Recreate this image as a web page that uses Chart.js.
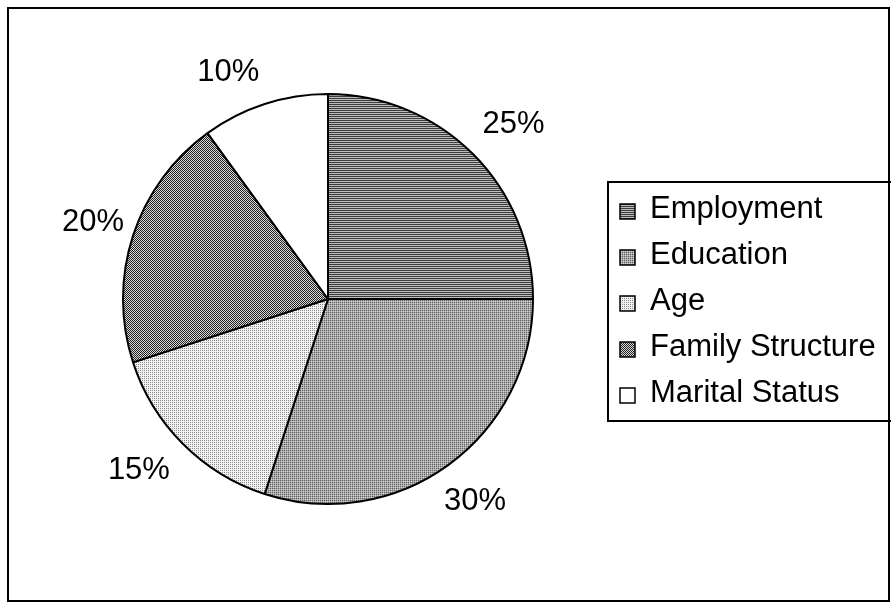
<!DOCTYPE html>
<html>
<head>
<meta charset="utf-8">
<script src="https://cdn.jsdelivr.net/npm/chart.js@4.4.0/dist/chart.umd.min.js"></script>
<style>
  html, body { margin: 0; padding: 0; background: #fff; }
  #grafico { display: block; }
</style>
</head>
<body>
<canvas id="grafico" width="891" height="603"></canvas>
<script>
const categorias = ['Employment', 'Education', 'Age', 'Family Structure', 'Marital Status']
const valores = [25, 30, 15, 20, 10]

// small bitmap fills, like the hatch patterns of the original
function geraPadrao(linhas) {
  const c = document.createElement('canvas')
  c.width = linhas[0].length
  c.height = linhas.length
  const ctx = c.getContext('2d')
  linhas.forEach((linha, y) => {
    linha.forEach((cor, x) => {
      ctx.fillStyle = cor
      ctx.fillRect(x, y, 1, 1)
    })
  })
  return ctx.createPattern(c, 'repeat')
}

const padroes = [
  geraPadrao([['#3c3c3c', '#3c3c3c'], ['#bcbcbc', '#bcbcbc']]),
  geraPadrao([['#606060', '#a8a8a8'], ['#a8a8a8', '#d0d0d0']]),
  geraPadrao([['#8a8a8a', '#f2f2f2'], ['#f2f2f2', '#f2f2f2']]),
  geraPadrao([['#222222', '#d8d8d8'], ['#d8d8d8', '#222222']]),
  '#ffffff'
]

const fonte = '"Liberation Sans", Arial, sans-serif'

// extra distance / angle nudge of each percent label (px, radians)
const ajusteRotulo = [
  { d: 50, a: 0.03 },
  { d: 45, a: 0 },
  { d: 50, a: 0.05 },
  { d: 42, a: 0 },
  { d: 43, a: -0.1 }
]

const molduraELegenda = {
  id: 'molduraELegenda',
  afterDraw(chart) {
    const ctx = chart.ctx
    ctx.save()
    ctx.strokeStyle = '#000'
    ctx.lineWidth = 2
    ctx.strokeRect(8, 8, 881, 593)

    ctx.strokeRect(608, 182, 290, 239)

    ctx.font = '31px ' + fonte
    ctx.textBaseline = 'alphabetic'
    ctx.textAlign = 'left'
    chart.data.labels.forEach((nome, i) => {
      const base = 218 + i * 46
      ctx.fillStyle = chart.data.datasets[0].backgroundColor[i]
      ctx.fillRect(620, base - 14, 15, 15)
      ctx.lineWidth = 1.5
      ctx.strokeRect(620, base - 14, 15, 15)
      ctx.fillStyle = '#000'
      ctx.fillText(nome, 650, base)
    })
    ctx.restore()
  }
}

const rotulosPercentuais = {
  id: 'rotulosPercentuais',
  afterDatasetsDraw(chart) {
    const ctx = chart.ctx
    const meta = chart.getDatasetMeta(0)
    ctx.save()
    ctx.font = '31px ' + fonte
    ctx.fillStyle = '#000'
    ctx.textAlign = 'center'
    ctx.textBaseline = 'middle'
    meta.data.forEach((arco, i) => {
      const meio = (arco.startAngle + arco.endAngle) / 2 + ajusteRotulo[i].a
      const dist = arco.outerRadius + ajusteRotulo[i].d
      const x = arco.x + Math.cos(meio) * dist
      const y = arco.y + Math.sin(meio) * dist
      ctx.fillText(chart.data.datasets[0].data[i] + '%', x, y)
    })
    ctx.restore()
  }
}

const grafico = new Chart(document.querySelector('#grafico'), {
  type: 'pie',
  data: {
    labels: categorias,
    datasets: [{
      data: valores,
      backgroundColor: padroes,
      borderColor: '#000',
      borderWidth: 2
    }]
  },
  options: {
    responsive: false,
    animation: false,
    devicePixelRatio: 1,
    radius: 205,
    layout: { padding: { left: 0, right: 235, top: 0, bottom: 5 } },
    events: [],
    plugins: {
      legend: { display: false },
      tooltip: { enabled: false }
    }
  },
  plugins: [rotulosPercentuais, molduraELegenda]
})
</script>
</body>
</html>
